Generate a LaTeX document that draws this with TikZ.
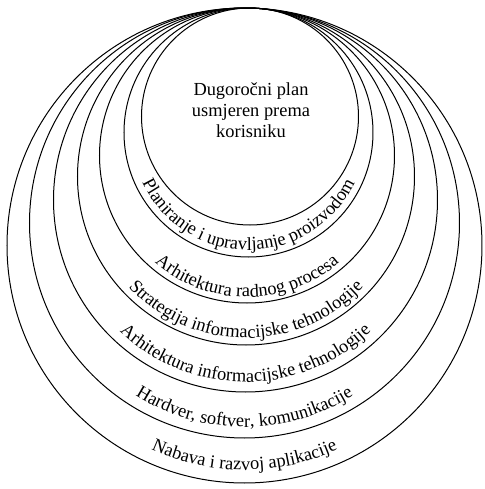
\documentclass[tikz,border=0pt]{standalone}
\usepackage{fontspec}
\setmainfont{Liberation Serif}
\usetikzlibrary{decorations.text}

\newcommand{\ringfont}{\fontsize{9.2}{11}\selectfont}

\tikzset{
  ring/.style={line width=0.5pt},
  ringlabel/.style={decorate, decoration={text along path, text align=center, text={|\ringfont|#1}}}
}

\begin{document}
\begin{tikzpicture}[x=0.5pt,y=0.5pt]
    \useasboundingbox (0,0) rectangle (484,489);

    % ================= NESTED CIRCLES (all touch at the top) =================
    \foreach \cx/\r in {250/108.5, 248.5/124.5, 247/147.5, 246/168.5, 245.5/192, 244.5/215, 244.5/237.5}
        \draw[ring] (\cx,481-\r) circle[radius=\r];

    % Core
    \node[align=center, font={\fontsize{9.2}{10.5}\selectfont}] (core) at (251,379)
        {Dugoročni plan\\usmjeren prema\\korisniku};

    % ================= RING LABELS =================
    \path[ringlabel={Planiranje i upravljanje proizvodom}]
        ([shift={(185:117.5)}]248.5,356.5) arc[start angle=185, end angle=355, radius=117.5];
    \path[ringlabel={Arhitektura radnog procesa}]
        ([shift={(185:141.5)}]247,333.5) arc[start angle=185, end angle=355, radius=141.5];
    \path[ringlabel={Strategija informacijske tehnologije}]
        ([shift={(185:161.5)}]246,312.5) arc[start angle=185, end angle=355, radius=161.5];
    \path[ringlabel={Arhitektura informacijske tehnologije}]
        ([shift={(185:182)}]245.5,289) arc[start angle=185, end angle=355, radius=182];
    \path[ringlabel={Hardver, softver, komunikacije}]
        ([shift={(185:204)}]244.5,266) arc[start angle=185, end angle=355, radius=204];
    \path[ringlabel={Nabava i razvoj aplikacije}]
        ([shift={(185:224.5)}]244.5,243.5) arc[start angle=185, end angle=355, radius=224.5];

\end{tikzpicture}
\end{document}
